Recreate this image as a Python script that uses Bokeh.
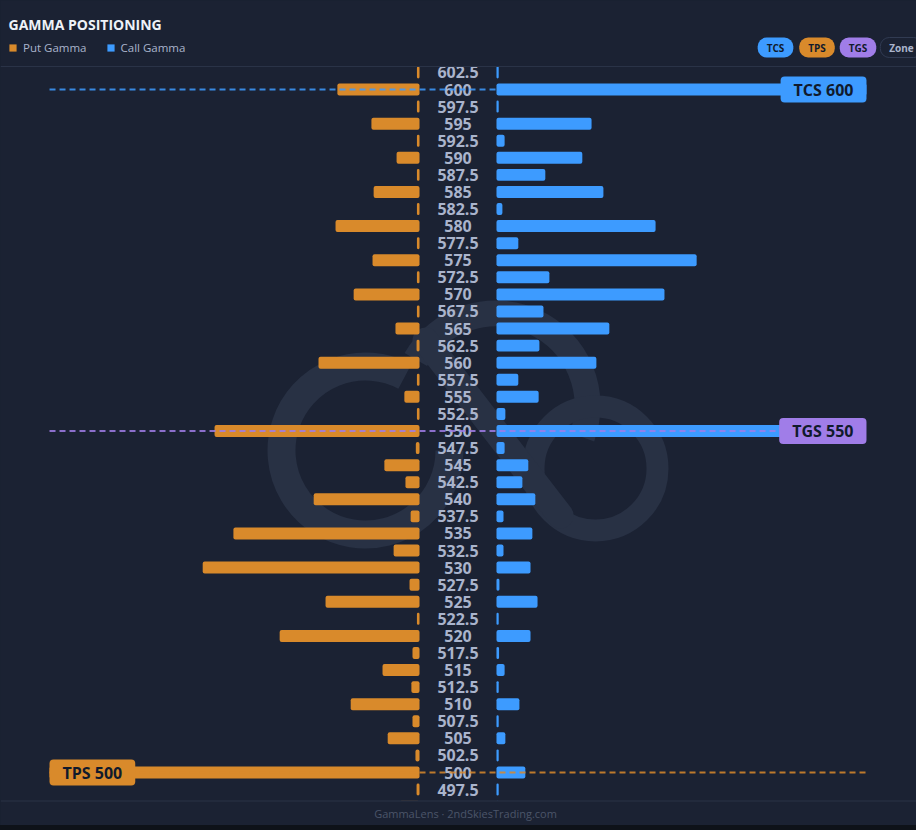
import math
from bokeh.plotting import figure
from bokeh.models import (ColumnDataSource, Label, Span, Legend, LegendItem,
                          Range1d, BoxAnnotation, GlobalInlineStyleSheet)
from bokeh.embed import file_html
from bokeh.resources import INLINE
from bokeh.core.properties import value

# ---------------- data ----------------
strikes = [602.5, 600, 597.5, 595, 592.5, 590, 587.5, 585, 582.5, 580, 577.5,
           575, 572.5, 570, 567.5, 565, 562.5, 560, 557.5, 555, 552.5, 550,
           547.5, 545, 542.5, 540, 537.5, 535, 532.5, 530, 527.5, 525, 522.5,
           520, 517.5, 515, 512.5, 510, 507.5, 505, 502.5, 500, 497.5, 495]
strike_labels = ["602.5", "600", "597.5", "595", "592.5", "590", "587.5", "585",
                 "582.5", "580", "577.5", "575", "572.5", "570", "567.5", "565",
                 "562.5", "560", "557.5", "555", "552.5", "550", "547.5", "545",
                 "542.5", "540", "537.5", "535", "532.5", "530", "527.5", "525",
                 "522.5", "520", "517.5", "515", "512.5", "510", "507.5", "505",
                 "502.5", "500", "497.5", "495"]
put_gamma = [0.7, 22.2, 0.7, 13.0, 0.7, 6.2, 0.7, 12.4, 0.7, 22.7, 0.7,
             12.7, 0.7, 17.8, 0.7, 6.5, 0.8, 27.3, 0.7, 4.1, 0.7, 55.4,
             1.0, 9.5, 3.8, 28.6, 2.4, 50.3, 7.0, 58.6, 2.7, 25.4, 0.7,
             37.8, 1.9, 10.0, 2.2, 18.6, 1.9, 8.6, 1.1, 100.0, 0.8, 5.4]
call_gamma = [0.6, 100.0, 0.6, 25.7, 2.2, 23.2, 13.2, 28.9, 1.6, 43.0, 5.9,
              54.1, 14.3, 45.4, 12.7, 30.5, 11.6, 27.0, 5.9, 11.4, 2.4, 90.0,
              2.2, 8.6, 7.0, 10.5, 1.9, 9.7, 1.9, 9.2, 0.8, 11.1, 0.6,
              9.2, 0.7, 2.2, 0.6, 6.2, 0.6, 2.4, 0.6, 7.8, 0.6, 0.6]
key_levels = ["TCS", "TGS", "TPS"]
key_strikes = [600, 550, 500]
badges = ["TCS", "TPS", "TGS", "Zone"]

# ---------------- style ----------------
BG = "#1b2233"
ORANGE = "#d98a2b"
BLUE = "#3d9bff"
PURPLE = "#a07de8"
LABEL_C = "#aab4cc"
DARK_TXT = "#101a2c"
GRID_C = "#2a3347"
WM = "#283144"
FONT = "Open Sans"
level_colors = {"TCS": BLUE, "TGS": PURPLE, "TPS": ORANGE}

W, H = 916, 825
PXU = 3.7            # px per gamma unit
CENTER = 457.5       # px of centre column
GAP = 10.4           # half gap for strike labels (gamma units)
PX_STRIKE = 17.075 / 2.5
y_end = 600 + 89 / PX_STRIKE
y_start = y_end - H / PX_STRIKE

p = figure(width=W, height=H, output_backend="svg", toolbar_location=None,
           x_axis_location=None, y_axis_location=None,
           x_range=Range1d(-CENTER / PXU, (W - CENTER) / PXU),
           y_range=Range1d(y_start, y_end),
           min_border=0, min_border_top=0, min_border_bottom=0,
           min_border_left=0, min_border_right=0,
           background_fill_color=BG, border_fill_color=BG,
           outline_line_color=None)
p.xgrid.visible = False
p.ygrid.visible = False
p.stylesheets = [GlobalInlineStyleSheet(css=(
    "html{background:linear-gradient(to bottom," + BG + " 0," + BG
    + " 825px,#0e1219 825px);}body{background:transparent;}"))]


def px2x(px):
    return (px - CENTER) / PXU


def py2y(py):
    return y_end - py / PX_STRIKE


def sy(py):
    return H - py


# ---------------- watermark ----------------
wm_kw = dict(line_color=WM, level="underlay")
p.arc(x=px2x(365), y=py2y(450), radius=84 / PXU, start_angle=math.radians(62),
      end_angle=math.radians(360), direction="anticlock", line_width=28, **wm_kw)
p.arc(x=px2x(495), y=py2y(405), radius=92 / PXU, start_angle=math.radians(-20),
      end_angle=math.radians(150), direction="anticlock", line_width=26, **wm_kw)
p.arc(x=px2x(595), y=py2y(468), radius=62 / PXU, start_angle=math.radians(0),
      end_angle=math.radians(360), direction="anticlock", line_width=22, **wm_kw)
p.segment(x0=px2x(425), y0=py2y(340), x1=px2x(560), y1=py2y(515),
          line_cap="round", line_width=26, **wm_kw)

# ---------------- bars ----------------
src = ColumnDataSource(dict(
    strike=strikes, label=strike_labels,
    put_left=[-GAP - v for v in put_gamma], put_right=[-GAP] * len(strikes),
    call_left=[GAP] * len(strikes), call_right=[GAP + v for v in call_gamma]))

put_r = p.hbar(y="strike", left="put_left", right="put_right", height=1.75,
               source=src, fill_color=ORANGE, line_color=None, border_radius=2)
call_r = p.hbar(y="strike", left="call_left", right="call_right", height=1.75,
                source=src, fill_color=BLUE, line_color=None, border_radius=2)

p.text(x=0, y="strike", text="label", source=src, text_align="center",
       text_baseline="middle", text_color=LABEL_C, text_font_size="16px",
       text_font=value(FONT), text_font_style="bold")

# ---------------- key level lines ----------------
xl, xr = -GAP - 100, GAP + 100
for name, s in zip(key_levels, key_strikes):
    p.segment(x0=xl, y0=s, x1=xr, y1=s, line_color=level_colors[name],
              line_width=2, line_dash="6 4", line_alpha=0.85)

# ---------------- header / footer covers & separators ----------------
p.add_layout(BoxAnnotation(top=py2y(800), fill_color=BG, fill_alpha=1,
                           line_color=None))
p.add_layout(BoxAnnotation(bottom=py2y(66), fill_color=BG, fill_alpha=1,
                           line_color=None))
p.add_layout(Span(location=py2y(66), dimension="width", line_color=GRID_C, line_width=1))
p.add_layout(Span(location=py2y(800.5), dimension="width", line_color=GRID_C, line_width=1))

# ---------------- key level tags ----------------
for name, s in zip(key_levels, key_strikes):
    c = level_colors[name]
    if name == "TPS":
        x, align = xl, "left"
    else:
        x, align = xr, "right"
    p.add_layout(Label(x=x, y=s, text=f"{name} {s}",
                       text_align=align, text_baseline="middle",
                       text_color=DARK_TXT, text_font_size="16px",
                       text_font=FONT, text_font_style="bold",
                       background_fill_color=c, border_radius=4,
                       padding=dict(left=13, right=13, top=2, bottom=2)))

# ---------------- header ----------------
p.add_layout(Label(x=8, y=sy(24), x_units="screen", y_units="screen",
                   text="GAMMA POSITIONING", text_baseline="middle",
                   text_color="#eef2f8", text_font_size="14px",
                   text_font=FONT, text_font_style="bold"))

legend = Legend(items=[LegendItem(label="Put Gamma", renderers=[put_r]),
                       LegendItem(label="Call Gamma", renderers=[call_r])],
                location=(8, sy(57)), orientation="horizontal",
                background_fill_alpha=0, border_line_color=None,
                label_text_color=LABEL_C, label_text_font_size="11.5px",
                label_text_font=FONT,
                glyph_width=9, glyph_height=9, label_standoff=6,
                spacing=19, padding=0, margin=0, label_height=20)
p.add_layout(legend)

badge_colors = [BLUE, ORANGE, PURPLE, BG]
badge_x = [775, 816.5, 857.5, 901]
for b, c, bx in zip(badges, badge_colors, badge_x):
    zone = b == "Zone"
    p.add_layout(Label(x=bx, y=sy(47), x_units="screen", y_units="screen",
                       text=b, text_align="center", text_baseline="middle",
                       text_color=LABEL_C if zone else DARK_TXT,
                       text_font_size="10px", text_font=FONT,
                       text_font_style="bold", background_fill_color=c,
                       border_line_color="#313b52" if zone else None,
                       border_radius=9,
                       padding=dict(left=9, right=9, top=3, bottom=3)))

p.add_layout(Label(x=465, y=sy(813), x_units="screen", y_units="screen",
                   text="GammaLens · 2ndSkiesTrading.com", text_align="center",
                   text_baseline="middle", text_color="#4b5569",
                   text_font_size="11px", text_font=FONT))

open("out.html", "w").write(file_html(p, INLINE))
